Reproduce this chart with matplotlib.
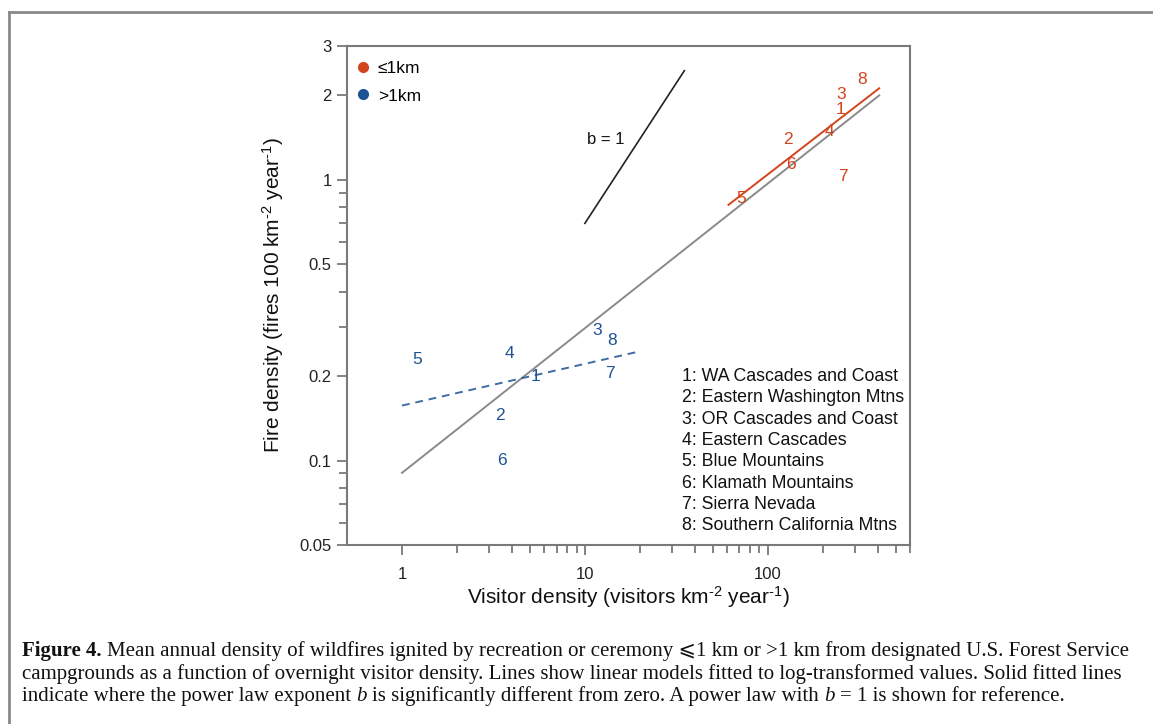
import numpy as np
import matplotlib
matplotlib.use('Agg')
import matplotlib.pyplot as plt
from matplotlib.lines import Line2D

plt.rcParams['font.family'] = ['Liberation Sans', 'DejaVu Sans']
plt.rcParams['mathtext.fontset'] = 'custom'
plt.rcParams['mathtext.rm'] = 'Liberation Sans'
plt.rcParams['mathtext.it'] = 'Liberation Sans:italic'
plt.rcParams['mathtext.bf'] = 'Liberation Sans:bold'

# region labels, values
regions = ['1', '2', '3', '4', '5', '6', '7', '8']
region_names = ['WA Cascades and Coast', 'Eastern Washington Mtns', 'OR Cascades and Coast',
                'Eastern Cascades', 'Blue Mountains', 'Klamath Mountains', 'Sierra Nevada',
                'Southern California Mtns']

# <=1 km from campgrounds
near_visitors = [249, 129, 253, 217, 72, 134, 257, 330]
near_fires = [1.78, 1.39, 2.01, 1.49, 0.86, 1.13, 1.03, 2.28]

# >1 km from campgrounds
far_visitors = [5.35, 3.44, 11.7, 3.86, 1.21, 3.52, 13.7, 14.1]
far_fires = [0.199, 0.145, 0.291, 0.240, 0.230, 0.0997, 0.204, 0.268]

# fitted lines (end points)
near_fit_x = [61, 407]
near_fit_y = [0.815, 2.12]
far_fit_x = [1.0, 20]
far_fit_y = [0.157, 0.245]
all_fit_x = [1.0, 407]
all_fit_y = [0.0904, 2.0]
ref_x = [10, 35]
ref_y = [0.70, 2.45]

red = '#d2451c'
blue = '#1e5294'
axcol = '#7a7a7a'

fig = plt.figure(figsize=(11.53, 7.24), dpi=100)
ax = fig.add_axes([347 / 1153, 1 - 545 / 724, 563 / 1153, 499 / 724])
ax.set_xscale('log')
ax.set_yscale('log')
ax.set_xlim(0.5, 600)
ax.set_ylim(0.05, 3)

ax.plot(all_fit_x, all_fit_y, color='#8a8a8a', lw=1.4)
ax.plot(near_fit_x, near_fit_y, color=red, lw=1.4)
ax.plot(far_fit_x, far_fit_y, color=blue, lw=1.4, dashes=(4, 3), alpha=0.85)
ax.plot(ref_x, ref_y, color='#222222', lw=1.2)
ax.text(16.5, 1.39, 'b = 1', ha='right', va='center', fontsize=12, color='#111111')

for r, xv, yv in zip(regions, near_visitors, near_fires):
    ax.text(xv, yv, r, color=red, fontsize=12.5, ha='center', va='center')
for r, xv, yv in zip(regions, far_visitors, far_fires):
    ax.text(xv, yv, r, color=blue, fontsize=12.5, ha='center', va='center')

# region list
for i, (r, name) in enumerate(zip(regions, region_names)):
    ax.text(0.5945, 0.3287 - i * 0.0427, f'{r}: {name}', transform=ax.transAxes,
            fontsize=12.8, ha='left', va='baseline', color='#111111')

handles = [Line2D([], [], ls='none', marker='o', ms=7, color=red),
           Line2D([], [], ls='none', marker='o', ms=7, color=blue)]
ax.legend(handles, ['≤1km', '>1km'], loc='upper left', bbox_to_anchor=(-0.007, 1.0),
          frameon=False, fontsize=12.5, handlelength=0.6, handletextpad=0.55,
          labelspacing=0.72, borderaxespad=0.65, borderpad=0.2)

ax.set_yticks([0.05, 0.1, 0.2, 0.5, 1, 2, 3])
ax.set_yticklabels(['0.05', '0.1', '0.2', '0.5', '1', '2', '3'])
ax.set_yticks([0.06, 0.07, 0.08, 0.09, 0.3, 0.4, 0.6, 0.7, 0.8, 0.9], minor=True)
ax.yaxis.set_minor_formatter(plt.NullFormatter())
ax.set_xticks([1, 10, 100])
ax.set_xticklabels(['1', '10', '100'])
minor_x = [2, 3, 4, 5, 6, 7, 8, 9, 20, 30, 40, 50, 60, 70, 80, 90, 200, 300, 400, 500, 600]
ax.set_xticks(minor_x, minor=True)
ax.xaxis.set_minor_formatter(plt.NullFormatter())

ax.tick_params(which='both', direction='out', color=axcol, width=1.3, labelsize=12,
               labelcolor='#222222')
ax.tick_params(which='major', length=7)
ax.tick_params(which='minor', length=6)
ax.tick_params(axis='x', pad=9)
ax.tick_params(axis='y', pad=4)
for s in ax.spines.values():
    s.set_color(axcol)
    s.set_linewidth(1.5)

ax.set_xlabel(r'Visitor density (visitors km$^{\text{-2}}$ year$^{\text{-1}}$)', fontsize=15,
              color='#111111')
ax.set_ylabel(r'Fire density (fires 100 km$^{\text{-2}}$ year$^{\text{-1}}$)', fontsize=15,
              color='#111111')
ax.xaxis.set_label_coords(0.5, -0.078)
ax.yaxis.set_label_coords(-0.108, 0.5)

# outer frame
fig.add_artist(Line2D([9 / 1153, 9 / 1153], [0, 1 - 12 / 724], color='#8a8a8a', lw=2,
                      transform=fig.transFigure))
fig.add_artist(Line2D([9 / 1153, 1], [1 - 12 / 724, 1 - 12 / 724], color='#8a8a8a', lw=2,
                      transform=fig.transFigure))

# caption, placed piece by piece
serif = ['Liberation Serif', 'DejaVu Serif', 'DejaVu Sans']
cap_size = 15.0
renderer = fig.canvas.get_renderer()


def text_width(s, **kw):
    t = fig.text(0, 0, s, fontsize=cap_size, family=serif, **kw)
    w = t.get_window_extent(renderer).width
    t.remove()
    return w


space = text_width('x x') - text_width('xx')


def caption_line(x_px, y_px, parts):
    x = x_px
    for s, kw in parts:
        lead = len(s) - len(s.lstrip(' '))
        x += lead * space
        t = fig.text(x / 1153, 1 - y_px / 724, s.strip(' '), fontsize=cap_size, family=serif,
                     va='baseline', ha='left', color='#111111', **kw)
        x += t.get_window_extent(renderer).width
        x += (len(s) - len(s.rstrip(' '))) * space


caption_line(22, 656, [('Figure 4.', {'weight': 'bold'}),
                       (' Mean annual density of wildfires ignited by recreation or ceremony ⩽1 km or >1 km '
                        'from designated U.S. Forest Service', {})])
caption_line(22, 679, [('campgrounds as a function of overnight visitor density. Lines show linear models '
                        'fitted to log-transformed values. Solid fitted lines', {})])
caption_line(22, 701, [('indicate where the power law exponent ', {}), ('b', {'style': 'italic'}),
                       (' is significantly different from zero. A power law with ', {}),
                       ('b', {'style': 'italic'}), (' = 1 is shown for reference.', {})])

fig.savefig('out.png', dpi=100)
